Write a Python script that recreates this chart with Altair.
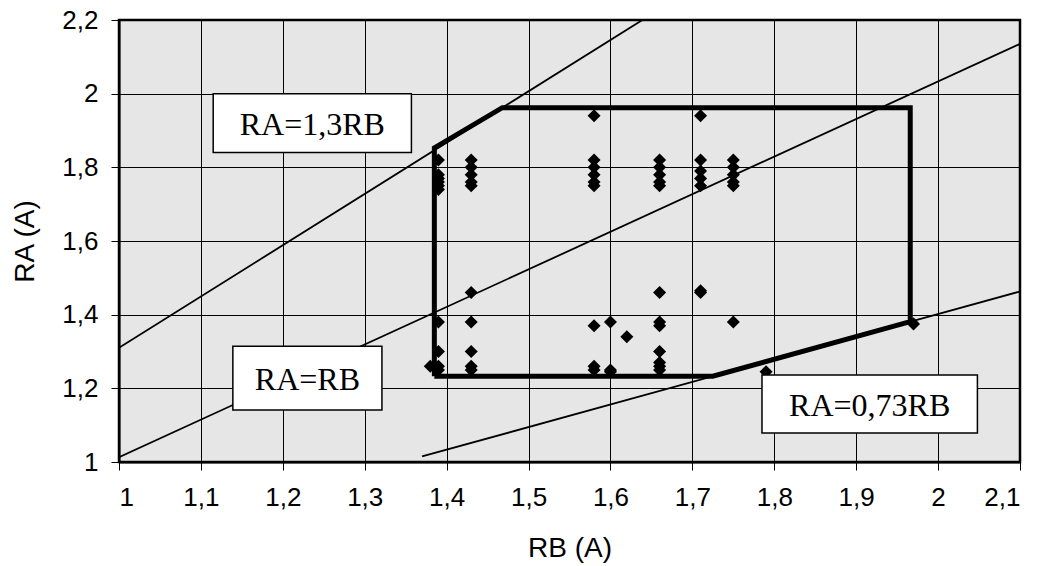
import altair as alt
import pandas as pd

# ---- data ----
pt_x = [1.39]*10 + [1.38] + [1.43]*10 + [1.58]*9 + [1.60]*3 + [1.62] + [1.66]*12 + [1.71]*7 + [1.75]*6 + [1.79, 1.97]
pt_y = ([1.82, 1.78, 1.77, 1.76, 1.75, 1.74, 1.38, 1.30, 1.26, 1.25] + [1.26]
        + [1.82, 1.80, 1.78, 1.76, 1.75, 1.46, 1.38, 1.30, 1.26, 1.25]
        + [1.94, 1.82, 1.80, 1.78, 1.76, 1.75, 1.37, 1.26, 1.25]
        + [1.38, 1.25, 1.245]
        + [1.34]
        + [1.82, 1.80, 1.78, 1.76, 1.75, 1.46, 1.38, 1.37, 1.30, 1.27, 1.26, 1.25]
        + [1.94, 1.82, 1.79, 1.77, 1.75, 1.46, 1.465]
        + [1.82, 1.80, 1.78, 1.76, 1.75, 1.38]
        + [1.245, 1.375])

# reference lines (endpoints as drawn)
line_names = ["RA=1,3RB", "RA=1,3RB", "RA=RB", "RA=RB", "RA=0,73RB", "RA=0,73RB"]
line_x = [1.0, 1.639, 1.0, 2.1, 1.37, 2.1]
line_y = [1.31, 2.2, 1.013, 2.135, 1.015, 1.463]

# operating region boundary
zone_x = [1.385, 1.725, 1.966, 1.966, 1.468, 1.385, 1.385]
zone_y = [1.233, 1.233, 1.381, 1.962, 1.962, 1.853, 1.233]

# annotation boxes
box_text = ["RA=1,3RB", "RA=RB", "RA=0,73RB"]
box_x1 = [1.115, 1.139, 1.785]
box_x2 = [1.357, 1.321, 2.048]
box_y1 = [1.84, 1.141, 1.079]
box_y2 = [2.0, 1.314, 1.236]

x_ticks = [1.0, 1.1, 1.2, 1.3, 1.4, 1.5, 1.6, 1.7, 1.8, 1.9, 2.0, 2.1]
y_ticks = [1.0, 1.2, 1.4, 1.6, 1.8, 2.0, 2.2]

pts = pd.DataFrame({"RB": pt_x, "RA": pt_y})
lines = pd.DataFrame({"name": line_names, "RB": line_x, "RA": line_y})
zone = pd.DataFrame({"RB": zone_x, "RA": zone_y, "order": list(range(len(zone_x)))})
boxes = pd.DataFrame({"text": box_text, "x1": box_x1, "x2": box_x2, "y1": box_y1, "y2": box_y2})
boxes["xc"] = (boxes["x1"] + boxes["x2"]) / 2
boxes["yc"] = (boxes["y1"] + boxes["y2"]) / 2

lab_expr = "replace(format(datum.value, '~g'), '.', ',')"
xscale = alt.Scale(domain=[1, 2.1], nice=False, zero=False)
yscale = alt.Scale(domain=[1, 2.2], nice=False, zero=False)
xax = alt.Axis(values=x_ticks, labelExpr=lab_expr, title="RB (A)", grid=True)
yax = alt.Axis(values=y_ticks, labelExpr=lab_expr, title="RA (A)", grid=True)

base_line = alt.Chart(lines).mark_line(color="black", strokeWidth=1.8, clip=True).encode(
    x=alt.X("RB:Q", scale=xscale, axis=xax),
    y=alt.Y("RA:Q", scale=yscale, axis=yax),
    detail="name:N",
)

zone_line = alt.Chart(zone).mark_line(color="black", strokeWidth=5, strokeJoin="miter").encode(
    x="RB:Q", y="RA:Q", order="order:Q"
)

points = alt.Chart(pts).mark_point(shape="diamond", filled=True, color="black", size=170, opacity=1).encode(
    x="RB:Q", y="RA:Q"
)

rects = alt.Chart(boxes).mark_rect(fill="white", stroke="black", strokeWidth=1.5).encode(
    x="x1:Q", x2="x2:Q", y="y1:Q", y2="y2:Q"
)

texts = alt.Chart(boxes).mark_text(font="Liberation Serif", fontSize=32, color="black",
                                   align="center", baseline="middle", dy=2).encode(
    x="xc:Q", y="yc:Q", text="text:N"
)

chart = alt.layer(base_line, zone_line, points, rects, texts).properties(
    width=901, height=442,
    padding={"left": 119, "top": 20, "right": 18, "bottom": 104},
    autosize=alt.AutoSizeParams(type="none"),
    background="white",
).configure_view(
    fill="#e6e6e6", stroke="black", strokeWidth=2.5
).configure_axis(
    gridColor="black", gridWidth=1, gridOpacity=1,
    domainColor="black", domainWidth=2,
    tickColor="black", tickSize=8, tickWidth=1,
    labelFont="Liberation Sans", labelFontSize=26, labelColor="black",
    titleFont="Liberation Sans", titleFontSize=28, titleColor="black", titleFontWeight="normal",
).configure_axisX(
    labelPadding=14, titlePadding=24,
).configure_axisY(
    labelPadding=13, titlePadding=22,
)

chart.save("out.html", embed_options={"renderer": "svg", "actions": False})
